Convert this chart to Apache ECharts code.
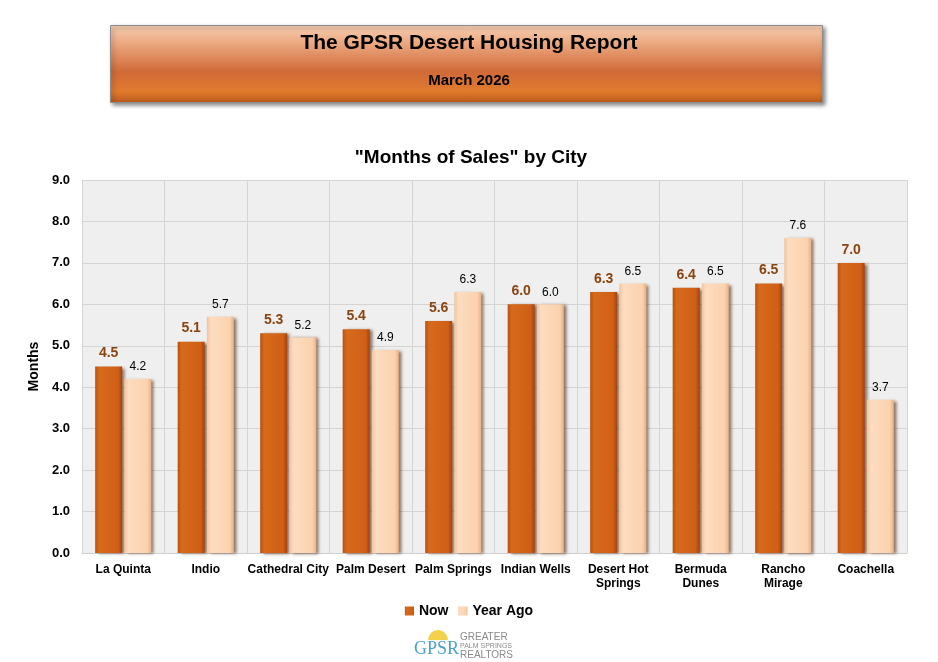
<!DOCTYPE html>
<html lang="en">
<head>
  <meta charset="UTF-8">
  <title>Months of Sales by City</title>
  <style>
    html, body { margin: 0; padding: 0; background: #fff; }
    #chart { width: 938px; height: 662px; }
  </style>
  <script src="https://cdn.jsdelivr.net/npm/echarts@6/dist/echarts.min.js"></script>
</head>
<body>
  <div id="chart"></div>
  <script>
    // city names, two-line ones split with \n
    const cities = ['La Quinta', 'Indio', 'Cathedral City', 'Palm Desert', 'Palm Springs',
      'Indian Wells', 'Desert Hot\nSprings', 'Bermuda\nDunes', 'Rancho\nMirage', 'Coachella'];
    const nowValues = [4.5, 5.1, 5.3, 5.4, 5.6, 6.0, 6.3, 6.4, 6.5, 7.0];
    const yearAgoValues = [4.2, 5.7, 5.2, 4.9, 6.3, 6.0, 6.5, 6.5, 7.6, 3.7];

    const FONT = 'Liberation Sans, Arial, sans-serif';
    const chart = echarts.init(document.getElementById('chart'));

    const option = {
      backgroundColor: '#fff',
      textStyle: { fontFamily: FONT },
      title: {
        text: '"Months of Sales" by City',
        left: 466, top: 143, textAlign: 'center',
        textStyle: { fontSize: 19, fontWeight: 'bold', color: '#000', fontFamily: FONT }
      },
      legend: {
        data: ['Now', 'Year Ago'],
        left: 'center', top: 599,
        itemWidth: 9, itemHeight: 9, itemGap: 10,
        icon: 'rect',
        textStyle: { fontSize: 14, fontWeight: 'bold', color: '#000', fontFamily: FONT,
          textShadowColor: 'rgba(0,0,0,0.25)', textShadowOffsetX: 1, textShadowOffsetY: 1 }
      },
      grid: { left: 82, right: 31, top: 180, bottom: 109, show: true, backgroundColor: '#efefef', borderWidth: 0 },
      xAxis: {
        type: 'category',
        data: cities,
        axisLine: { show: true, lineStyle: { color: '#cfcfcf' } },
        axisTick: { show: false },
        splitLine: { show: true, lineStyle: { color: '#d4d4d4' } },
        axisLabel: { interval: 0, color: '#000', fontSize: 12, fontWeight: 'bold', lineHeight: 14, margin: 10,
          textShadowColor: 'rgba(0,0,0,0.2)', textShadowOffsetX: 1, textShadowOffsetY: 1 }
      },
      yAxis: {
        type: 'value', min: 0, max: 9, interval: 1,
        name: 'Months', nameLocation: 'middle', nameGap: 36,
        nameTextStyle: { fontSize: 14, fontWeight: 'bold', color: '#000', fontFamily: FONT,
          textShadowColor: 'rgba(0,0,0,0.25)', textShadowOffsetX: 1, textShadowOffsetY: 1 },
        axisLine: { show: false },
        axisTick: { show: false },
        splitLine: { lineStyle: { color: '#d4d4d4' } },
        axisLabel: { formatter: v => v.toFixed(1), color: '#000', fontSize: 13, fontWeight: 'bold', margin: 12,
          textShadowColor: 'rgba(0,0,0,0.3)', textShadowOffsetX: 1, textShadowOffsetY: 1 }
      },
      series: [
        {
          name: 'Now', type: 'bar', data: nowValues,
          barWidth: 27, barGap: '8%',
          itemStyle: {
            color: new echarts.graphic.LinearGradient(0, 0, 1, 0, [
              { offset: 0, color: '#b9500f' },
              { offset: 0.15, color: '#d66a1c' },
              { offset: 0.85, color: '#cf5f16' },
              { offset: 1, color: '#a4420c' }
            ]),
            shadowColor: 'rgba(70,35,10,0.6)', shadowBlur: 3, shadowOffsetX: 3, shadowOffsetY: 1
          },
          label: { show: true, position: 'top', distance: 6, formatter: p => p.value.toFixed(1),
            color: '#8a4410', fontSize: 14, fontWeight: 'bold', fontFamily: FONT,
            textShadowColor: 'rgba(0,0,0,0.35)', textShadowOffsetX: 1, textShadowOffsetY: 1 }
        },
        {
          name: 'Year Ago', type: 'bar', data: yearAgoValues,
          barWidth: 27,
          itemStyle: {
            color: new echarts.graphic.LinearGradient(0, 0, 1, 0, [
              { offset: 0, color: '#f2c29a' },
              { offset: 0.15, color: '#fddcc0' },
              { offset: 0.85, color: '#fbd2ae' },
              { offset: 1, color: '#e6b088' }
            ]),
            shadowColor: 'rgba(70,35,10,0.6)', shadowBlur: 3, shadowOffsetX: 3, shadowOffsetY: 1
          },
          label: { show: true, position: 'top', distance: 6, formatter: p => p.value.toFixed(1),
            color: '#000', fontSize: 12, fontFamily: FONT }
        }
      ],
      graphic: [
        // header banner
        {
          type: 'rect', left: 110, top: 25, z: 1,
          shape: { width: 712, height: 77 },
          style: {
            fill: new echarts.graphic.LinearGradient(0, 0, 0, 1, [
              { offset: 0, color: '#f6cfb4' },
              { offset: 0.25, color: '#eaa57c' },
              { offset: 0.6, color: '#d06a38' },
              { offset: 0.85, color: '#e07a2c' },
              { offset: 1, color: '#b95a1c' }
            ]),
            stroke: '#8c8c8c', lineWidth: 1,
            shadowColor: 'rgba(0,0,0,0.45)', shadowBlur: 4, shadowOffsetX: 2, shadowOffsetY: 2
          }
        },
        {
          type: 'text', left: 'center', top: 33, z: 2,
          style: { text: 'The GPSR Desert Housing Report', fill: '#000', font: 'bold 21px ' + FONT }
        },
        {
          type: 'text', left: 'center', top: 73, z: 2,
          style: { text: 'March 2026', fill: '#000', font: 'bold 15px ' + FONT }
        },
        // logo at the bottom
        {
          type: 'text', left: 414, top: 640, z: 2,
          style: { text: 'GPSR', fill: '#4aa3c8', font: '18px Liberation Serif, serif' }
        },
        {
          type: 'text', left: 460, top: 632, z: 2,
          style: { text: 'GREATER', fill: '#8a8a8a', font: '10px ' + FONT }
        },
        {
          type: 'text', left: 460, top: 643, z: 2,
          style: { text: 'PALM SPRINGS', fill: '#8a8a8a', font: '7px ' + FONT }
        },
        {
          type: 'text', left: 460, top: 650, z: 2,
          style: { text: 'REALTORS', fill: '#8a8a8a', font: '10px ' + FONT }
        },
        {
          type: 'arc', left: 428, top: 630, z: 1,
          shape: { cx: 0, cy: 0, r: 10, startAngle: Math.PI, endAngle: 2 * Math.PI },
          style: { fill: '#f2d24a', stroke: null }
        }
      ]
    };

    chart.setOption(option);
  </script>
</body>
</html>
